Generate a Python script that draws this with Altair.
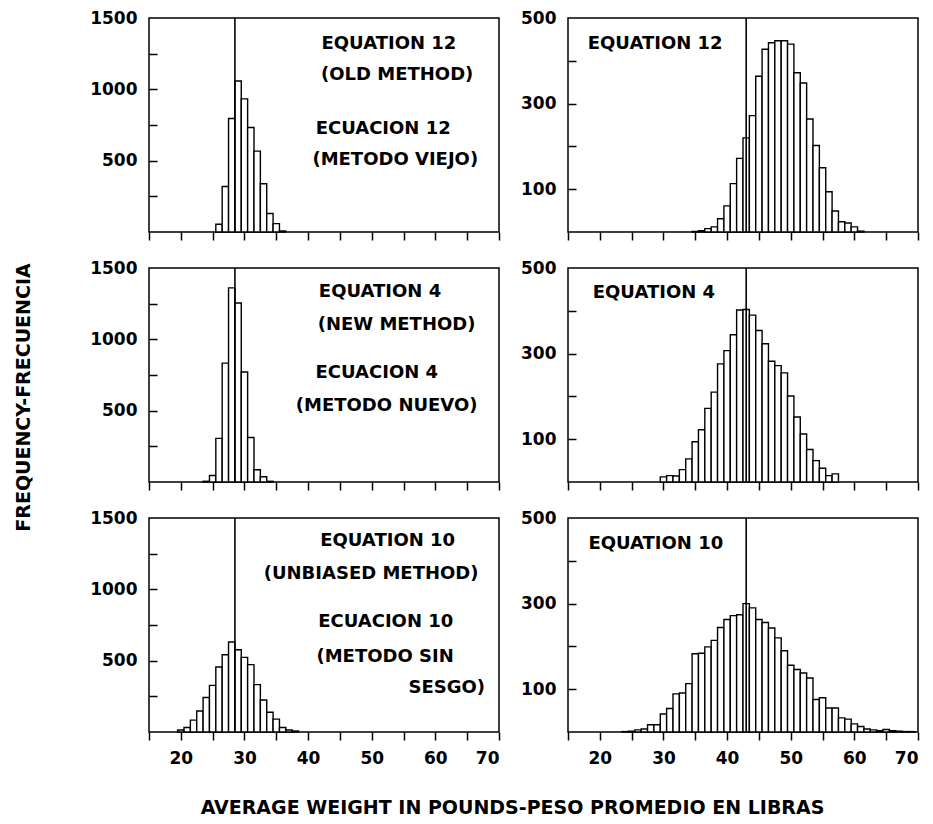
import altair as alt
import pandas as pd

# ---------------- data (bin centres are integers, bins 1 lb wide) ----------------
eq12_left_start = 26
eq12_left_counts = [54, 319, 796, 1058, 933, 732, 567, 338, 130, 59, 7]

eq12_right_start = 35
eq12_right_counts = [1, 3, 8, 12, 31, 61, 113, 172, 220, 272, 364, 427, 442, 447,
                     447, 439, 372, 348, 264, 202, 150, 94, 49, 24, 21, 12, 2]

eq4_left_start = 24
eq4_left_counts = [5, 46, 306, 833, 1361, 1255, 771, 312, 86, 37, 5]

eq4_right_start = 30
eq4_right_counts = [12, 15, 14, 29, 54, 94, 122, 172, 210, 276, 307, 344, 402, 403,
                    390, 354, 323, 282, 272, 255, 201, 152, 112, 76, 50, 32, 15, 19]

eq10_left_start = 20
eq10_left_counts = [14, 32, 83, 147, 242, 327, 456, 541, 631, 576, 523, 472, 332, 224,
                    138, 90, 32, 14, 7]

eq10_right_start = 24
eq10_right_counts = [1, 2, 5, 7, 17, 17, 42, 55, 89, 91, 113, 183, 184, 199, 214, 244,
                     263, 272, 274, 300, 290, 263, 256, 243, 220, 190, 156, 146, 138, 126,
                     76, 80, 56, 56, 33, 30, 19, 13, 7, 5, 3, 6, 3, 2, 1, 1]

left_line = 28.5
right_line = 43

x_ticks = list(range(15, 71, 5))
left_labels = [500, 1000, 1500]
left_minor = [250, 500, 750, 1000, 1250]
right_labels = [100, 300, 500]
right_minor = [100, 200, 300, 400]

notes_eq12_left = {"text": ["EQUATION 12", "(OLD METHOD)", "ECUACION 12", "(METODO VIEJO)"],
                   "x": [52.7, 54.0, 51.8, 53.7], "y": [1320, 1100, 720, 507]}
notes_eq4_left = {"text": ["EQUATION 4", "(NEW METHOD)", "ECUACION 4", "(METODO NUEVO)"],
                  "x": [51.3, 53.9, 50.8, 52.35], "y": [1333, 1101, 765, 533]}
notes_eq10_left = {"text": ["EQUATION 10", "(UNBIASED METHOD)", "ECUACION 10", "(METODO SIN", "SESGO)"],
                   "x": [52.5, 49.9, 52.2, 52.1, 61.8], "y": [1337, 1104, 773, 524, 307]}
notes_eq12_right = {"text": ["EQUATION 12"], "x": [28.7], "y": [439]}
notes_eq4_right = {"text": ["EQUATION 4"], "x": [28.5], "y": [441]}
notes_eq10_right = {"text": ["EQUATION 10"], "x": [28.8], "y": [439]}

Y_TITLE = "FREQUENCY-FRECUENCIA"
X_TITLE = "AVERAGE WEIGHT IN POUNDS-PESO PROMEDIO EN LIBRAS"

# ---------------- styling ----------------
W, H = 350, 214
FONT = "DejaVu Sans"


def panel(start, counts, ymax, labels, minor, line_x, notes, bottom=False,
          ytitle=False, xtitle=False):
    df = pd.DataFrame({"center": list(range(start, start + len(counts))), "count": counts})
    xs = alt.Scale(domain=[15, 70], nice=False, zero=False)
    ys = alt.Scale(domain=[0, ymax], nice=False)

    xaxis_kw = dict(values=x_ticks, tickSize=8, tickWidth=1.5, tickColor="black",
                    domain=False, grid=False, labels=bottom, format="d",
                    labelExpr="datum.value % 10 === 0 && datum.value >= 20 ? datum.label : ''",
                    labelFont=FONT, labelFontSize=17, labelFontWeight="bold",
                    labelColor="black", labelPadding=10, title=None)
    if xtitle:
        xaxis_kw.update(title=X_TITLE, titleX=363, titleY=75, titleAlign="center",
                        titleBaseline="middle", titleFont=FONT, titleFontSize=19,
                        titleFontWeight="bold", titleColor="black")
    yaxis_kw = dict(orient="left", values=labels, ticks=False, tickSize=0, domain=False,
                    grid=False, format="d", labelFont=FONT, labelFontSize=17,
                    labelFontWeight="bold", labelColor="black", labelPadding=12,
                    labelBaseline="middle", title=None)
    if ytitle:
        yaxis_kw.update(title=Y_TITLE, titleX=-126, titleY=129, titleAngle=270,
                        titleAlign="center", titleBaseline="middle", titleFont=FONT,
                        titleFontSize=19, titleFontWeight="bold", titleColor="black")

    xaxis = alt.Axis(**xaxis_kw)

    bars = alt.Chart(df).transform_calculate(
        x0="datum.center - 0.5", x1="datum.center + 0.5", base="0"
    ).mark_bar(fill="white", stroke="black", strokeWidth=1.4).encode(
        x=alt.X("x0:Q", scale=xs, axis=xaxis),
        x2="x1:Q",
        y=alt.Y("count:Q", scale=ys, axis=alt.Axis(**yaxis_kw)),
        y2="base:Q",
    )

    inner_ticks = alt.Chart(pd.DataFrame({"v": minor})).mark_point(opacity=0).encode(
        y=alt.Y("v:Q", scale=ys,
                axis=alt.Axis(orient="right", offset=-W, values=minor, labels=False,
                              tickSize=8, tickWidth=1.5, tickColor="black",
                              domain=False, grid=False, title=None)),
    )

    rule = alt.Chart(pd.DataFrame({"x": [line_x]})).mark_rule(
        color="black", strokeWidth=1.6
    ).encode(x=alt.X("x:Q", scale=xs, axis=xaxis))

    text = alt.Chart(pd.DataFrame(notes)).mark_text(
        font=FONT, fontSize=18, fontWeight="bold", color="black",
        align="center", baseline="middle"
    ).encode(
        x=alt.X("x:Q", scale=xs, axis=xaxis),
        y=alt.Y("y:Q", scale=ys, axis=None),
        text="text:N",
    )

    return alt.layer(bars, inner_ticks, rule, text).resolve_axis(y="independent").properties(
        width=W, height=H
    )


panels = [
    panel(eq12_left_start, eq12_left_counts, 1500, left_labels, left_minor, left_line, notes_eq12_left),
    panel(eq12_right_start, eq12_right_counts, 500, right_labels, right_minor, right_line, notes_eq12_right),
    panel(eq4_left_start, eq4_left_counts, 1500, left_labels, left_minor, left_line, notes_eq4_left,
          ytitle=True),
    panel(eq4_right_start, eq4_right_counts, 500, right_labels, right_minor, right_line, notes_eq4_right),
    panel(eq10_left_start, eq10_left_counts, 1500, left_labels, left_minor, left_line, notes_eq10_left,
          bottom=True, xtitle=True),
    panel(eq10_right_start, eq10_right_counts, 500, right_labels, right_minor, right_line, notes_eq10_right,
          bottom=True),
]

chart = alt.concat(*panels, columns=2, spacing={"row": 36, "column": 69}, bounds="flush").properties(
    padding={"left": 5, "top": 0, "right": 0, "bottom": 0},
    background="white",
).configure_view(
    stroke="black", strokeWidth=1.5
)

chart.save("out.html", embed_options={"renderer": "svg", "actions": False})
